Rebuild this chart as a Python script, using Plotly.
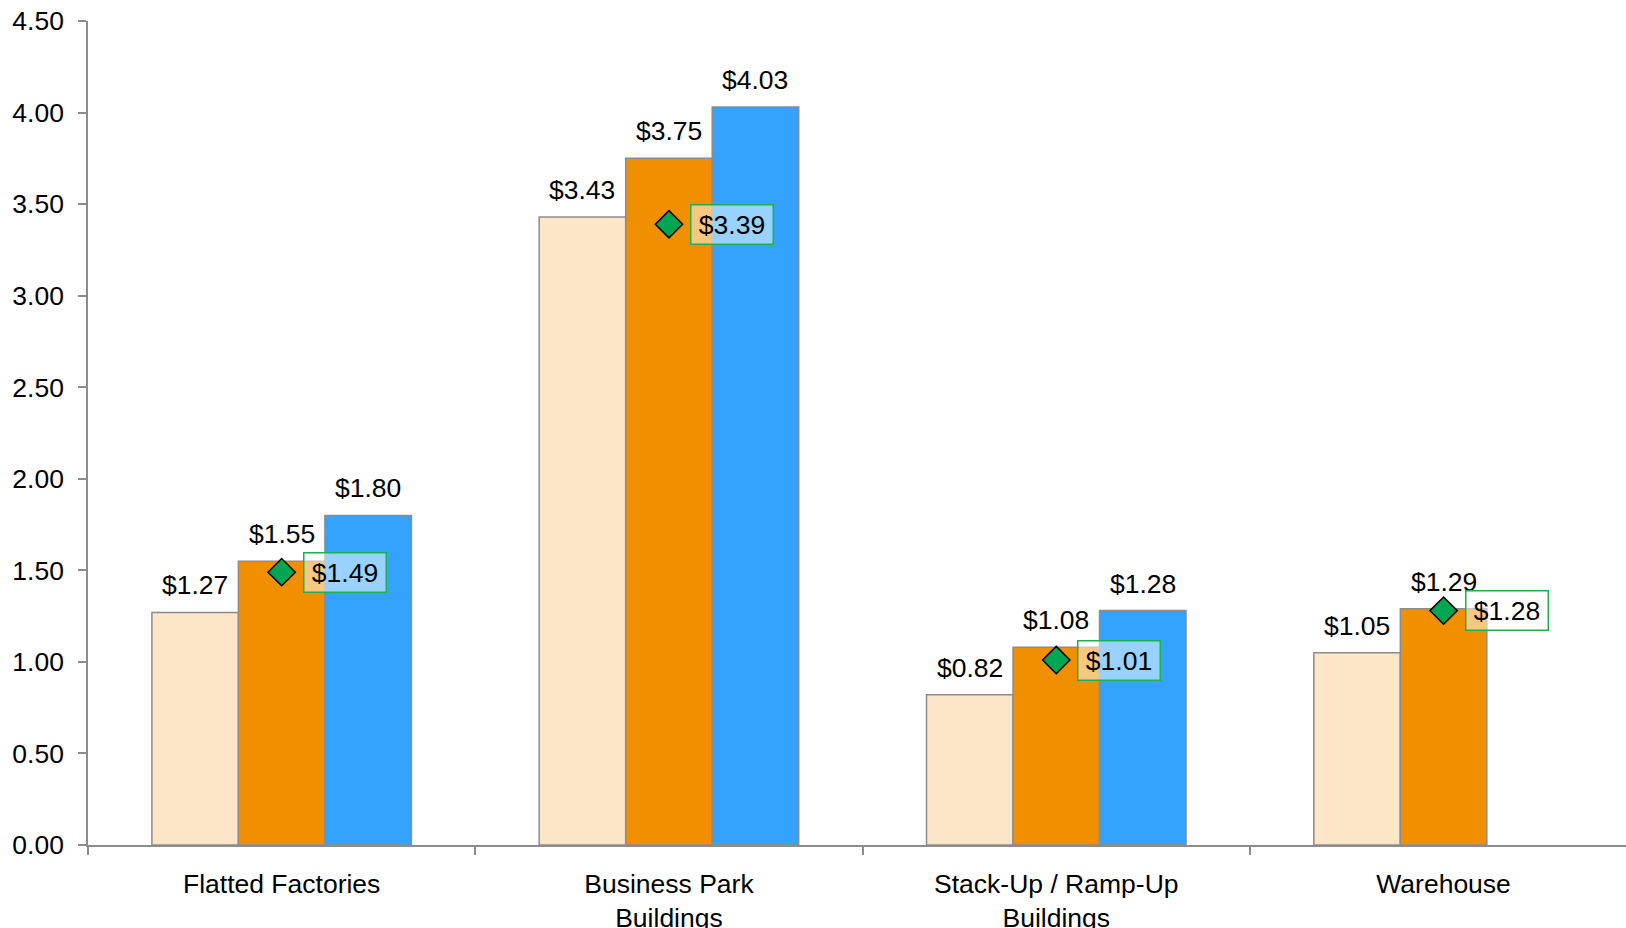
import plotly.graph_objects as go

categories = ["Flatted Factories", "Business Park<br>Buildings", "Stack-Up / Ramp-Up<br>Buildings", "Warehouse"]
series1 = [1.27, 3.43, 0.82, 1.05]
series2 = [1.55, 3.75, 1.08, 1.29]
series3 = [1.80, 4.03, 1.28, None]
marker_vals = [1.49, 3.39, 1.01, 1.28]
y_ticks = [0, 0.5, 1, 1.5, 2, 2.5, 3, 3.5, 4, 4.5]

FONT = "Arial, Liberation Sans, sans-serif"
colors = ["#FDE6C7", "#F09000", "#33A3FF"]

W, H = 1626, 928
ML, MR, MT, MB = 88, 0, 20.7, 82.7
X_RANGE = [-0.5, 3.471]
BARGAP = 0.33

fig = go.Figure()
all_series = [series1, series2, series3]
for vals, col in zip(all_series, colors):
    fig.add_trace(go.Bar(
        x=categories, y=vals,
        marker=dict(color=col, line=dict(color="#8C8C8C", width=1.5)),
        cliponaxis=False, showlegend=False,
    ))

fig.add_trace(go.Scatter(
    x=categories, y=marker_vals, mode="markers",
    marker=dict(symbol="diamond", size=21, color="#00A651",
                line=dict(color="#000000", width=1.5)),
    cliponaxis=False, showlegend=False,
))

# bar value labels (pixel offset of each bar within its group)
px_per_cat = (W - ML - MR) / (X_RANGE[1] - X_RANGE[0])
bar_px = px_per_cat * (1 - BARGAP) / len(all_series)
for si, vals in enumerate(all_series):
    for c, v in zip(categories, vals):
        if v is None:
            continue
        fig.add_annotation(
            x=c, y=v, xref="x", yref="y", text=f"${v:.2f}",
            showarrow=False, xanchor="center", yanchor="bottom",
            xshift=(si - 1) * bar_px, yshift=10,
            font=dict(family=FONT, size=26.5, color="#000000"),
        )

for c, v in zip(categories, marker_vals):
    fig.add_annotation(
        x=c, y=v, xref="x", yref="y", text=f"${v:.2f}",
        showarrow=False, xanchor="left", yanchor="middle", xshift=21,
        font=dict(family=FONT, size=26.5, color="#000000"),
        bgcolor="rgba(255,255,255,0.5)", bordercolor="#1DB04E",
        borderwidth=1.5, borderpad=2, width=77, height=34, align="center",
    )

fig.update_layout(
    width=W, height=H,
    margin=dict(l=ML, r=MR, t=MT, b=MB, autoexpand=False),
    plot_bgcolor="#FFFFFF", paper_bgcolor="#FFFFFF",
    barmode="group", bargap=BARGAP, bargroupgap=0,
    font=dict(family=FONT, color="#000000"),
)
fig.update_xaxes(
    range=X_RANGE, showline=True, linecolor="#8C8C8C", linewidth=1.5,
    ticks="outside", tickson="boundaries", ticklen=8, tickcolor="#8C8C8C", tickwidth=1.5,
    tickfont=dict(family=FONT, size=26.5, color="#000000"),
    showgrid=False, zeroline=False, automargin=False, ticklabelstandoff=14,
    ticklabeloverflow="allow",
)
fig.update_yaxes(
    range=[0, 4.5], tickvals=y_ticks, tickformat=".2f",
    showline=True, linecolor="#8C8C8C", linewidth=1.5,
    ticks="outside", ticklen=8, tickcolor="#8C8C8C", tickwidth=1.5,
    tickfont=dict(family=FONT, size=26.5, color="#000000"),
    showgrid=False, zeroline=False, automargin=False, ticklabelstandoff=9,
    ticklabeloverflow="allow",
)

fig.write_html(
    "out.html",
    config={"displayModeBar": False},
    post_script="document.body.style.margin='0';document.body.style.overflow='hidden';",
)
